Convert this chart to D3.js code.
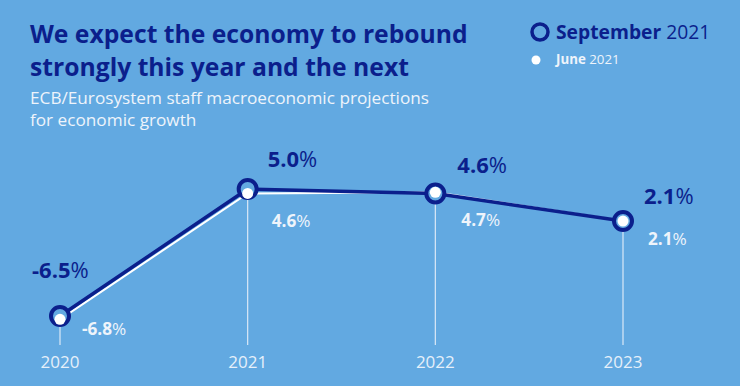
<!DOCTYPE html>
<html>
<head>
<meta charset="utf-8">
<script src="https://cdn.jsdelivr.net/npm/d3@7"></script>
<style>
  html, body { margin: 0; padding: 0; background: #62a9e1; }
  svg { display: block; font-family: "Open Sans", sans-serif; }
</style>
</head>
<body>
<div id="main"></div>
<script>
const width = 740, height = 386;
const years = ["2020", "2021", "2022", "2023"];
const september = [-6.5, 5.0, 4.6, 2.1];
const june = [-6.8, 4.6, 4.7, 2.1];
// label offsets (layout only)
const sepLabelDx = [-28, 20, 22, 21];
const sepLabelDy = [-38, -22, -20, -17];
const junLabelDx = [22, 24, 26, 25];
const junLabelDy = [16, 34, 34, 24];

const bg = "#62a9e1";
const dark = "#0b1f8c";
const light = "#eef4fb";

let svg = d3.select("#main").append("svg")
    .attr("width", width)
    .attr("height", height);

svg.append("rect").attr("width", width).attr("height", height).attr("fill", bg);

let scaleX = d3.scalePoint().domain(years).range([60, 623]);
let scaleY = d3.scaleLinear().domain([-8, 6]).range([332.6, 178]);

// title
svg.append("text").attr("x", 30).attr("y", 43)
    .attr("fill", dark).attr("font-size", 24.7).attr("font-weight", 700)
    .text("We expect the economy to rebound");
svg.append("text").attr("x", 30).attr("y", 76)
    .attr("fill", dark).attr("font-size", 24.7).attr("font-weight", 700)
    .text("strongly this year and the next");
svg.append("text").attr("x", 30).attr("y", 104)
    .attr("fill", light).attr("font-size", 17.2)
    .text("ECB/Eurosystem staff macroeconomic projections");
svg.append("text").attr("x", 30).attr("y", 126)
    .attr("fill", light).attr("font-size", 17.2)
    .text("for economic growth");

// legend
svg.append("circle").attr("cx", 540).attr("cy", 32).attr("r", 8)
    .attr("fill", bg).attr("stroke", dark).attr("stroke-width", 3.5);
let lg1 = svg.append("text").attr("x", 556).attr("y", 39)
    .attr("fill", dark).attr("font-size", 19.3);
lg1.append("tspan").attr("font-weight", 700).text("September ");
lg1.append("tspan").text("2021");
svg.append("circle").attr("cx", 536).attr("cy", 60).attr("r", 4.5).attr("fill", "#ffffff");
let lg2 = svg.append("text").attr("x", 556).attr("y", 64)
    .attr("fill", light).attr("font-size", 13.3);
lg2.append("tspan").attr("font-weight", 700).text("June ");
lg2.append("tspan").text("2021");

// grid lines and year labels
svg.selectAll(".grid").data(years).enter().append("line")
    .attr("class", "grid")
    .attr("x1", d => scaleX(d)).attr("x2", d => scaleX(d))
    .attr("y1", (d, i) => scaleY(september[i])).attr("y2", 345)
    .attr("stroke", "#dbe9f7").attr("stroke-width", 1.2);

svg.selectAll(".year").data(years).enter().append("text")
    .attr("class", "year")
    .attr("x", d => scaleX(d)).attr("y", 368)
    .attr("text-anchor", "middle")
    .attr("fill", "#e6f0fa").attr("font-size", 17)
    .text(d => d);

let line = d3.line().x((d, i) => scaleX(years[i])).y(d => scaleY(d));

// June line (white) below
svg.append("path").datum(june)
    .attr("d", line)
    .attr("fill", "none").attr("stroke", "#ffffff").attr("stroke-width", 2);

// September line
svg.append("path").datum(september)
    .attr("d", line)
    .attr("fill", "none").attr("stroke", dark).attr("stroke-width", 3.5)
    .attr("stroke-linejoin", "round");

svg.selectAll(".sep").data(september).enter().append("circle")
    .attr("class", "sep")
    .attr("cx", (d, i) => scaleX(years[i])).attr("cy", d => scaleY(d))
    .attr("r", 9).attr("fill", bg).attr("stroke", dark).attr("stroke-width", 4);

svg.selectAll(".jun").data(june).enter().append("circle")
    .attr("class", "jun")
    .attr("cx", (d, i) => scaleX(years[i])).attr("cy", d => scaleY(d))
    .attr("r", 5.5).attr("fill", "#ffffff");

// value labels
let fmt = d3.format(".1f");
function pct(sel) {
    sel.append("tspan").attr("font-weight", 700).text(d => fmt(d).replace("−", "-"));
    sel.append("tspan").attr("font-weight", 400).text("%");
}

svg.selectAll(".sepLab").data(september).enter().append("text")
    .attr("class", "sepLab")
    .attr("x", (d, i) => scaleX(years[i]) + sepLabelDx[i])
    .attr("y", (d, i) => scaleY(d) + sepLabelDy[i])
    .attr("fill", dark).attr("font-size", 22)
    .call(pct);

svg.selectAll(".junLab").data(june).enter().append("text")
    .attr("class", "junLab")
    .attr("x", (d, i) => scaleX(years[i]) + junLabelDx[i])
    .attr("y", (d, i) => scaleY(d) + junLabelDy[i])
    .attr("fill", light).attr("font-size", 17.2)
    .call(pct);
</script>
</body>
</html>
